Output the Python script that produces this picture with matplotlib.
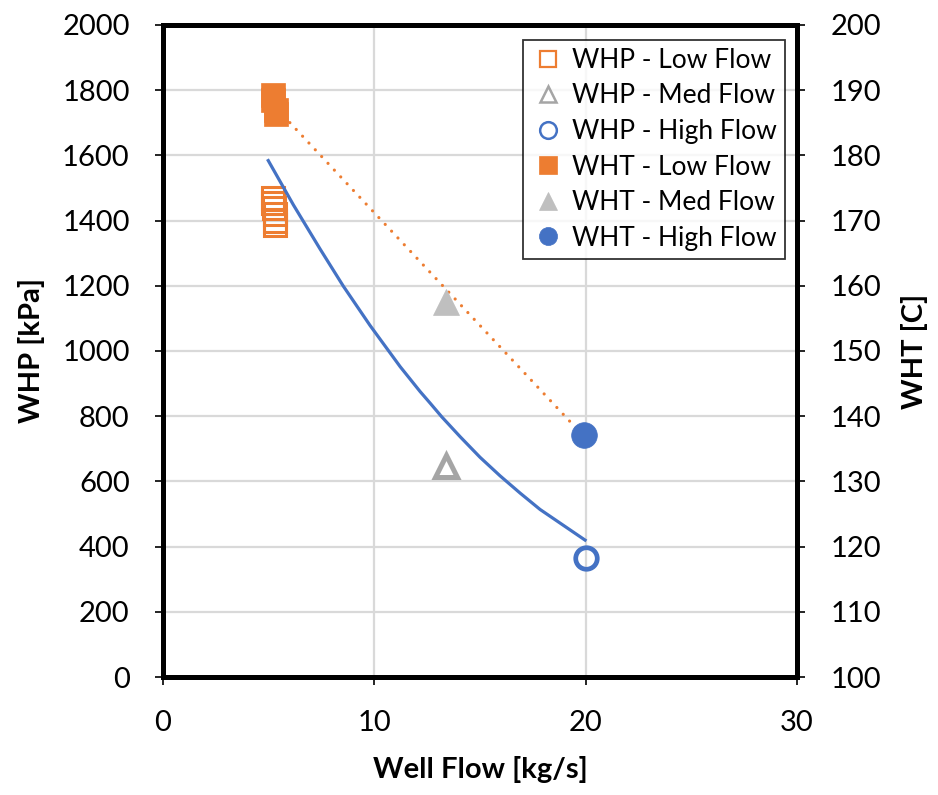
import matplotlib
matplotlib.use("Agg")
import matplotlib.pyplot as plt
from matplotlib.lines import Line2D

plt.rcParams['font.family'] = ['Lato', 'DejaVu Sans']

# ---- data ----
whp_low_x = [5.2, 5.2, 5.25, 5.3, 5.3, 5.3]
whp_low_y = [1470, 1455, 1440, 1420, 1400, 1385]
whp_med_x = [13.4]
whp_med_y = [648]
whp_high_x = [20.0]
whp_high_y = [365]

wht_low_x = [5.2, 5.2, 5.35, 5.35]
wht_low_y = [189.3, 188.5, 187.0, 186.3]
wht_med_x = [13.4]
wht_med_y = [157.5]
wht_high_x = [19.9]
wht_high_y = [137.1]

# WHP trend curve (blue, solid)
curve_x = [4.98, 6.17, 7.43, 8.53, 9.80, 11.22, 12.16, 12.64, 13.19, 14.06, 15.0, 15.95, 16.9, 17.84, 19.97]
curve_whp = [1584, 1448, 1313, 1199, 1078, 952, 876, 840, 798, 737, 674, 617, 564, 514, 420]
# WHT trend line (orange, dotted)
trend_x = [5.4, 19.86]
trend_wht = [187.1, 137.1]

x_ticks = [0, 10, 20, 30]
whp_ticks = list(range(0, 2001, 200))
wht_ticks = list(range(100, 201, 10))

ORANGE = '#ED7D31'
GRAY = '#A5A5A5'
LGRAY = '#BFBFBF'
BLUE = '#4472C4'

fig = plt.figure(figsize=(9.38, 7.95), dpi=100)
ax = fig.add_axes([0.1738, 0.1484, 0.6759, 0.8202])
ax2 = ax.twinx()

ax.set_xlim(0, 30)
ax.set_ylim(0, 2000)
ax2.set_ylim(100, 200)
ax.set_xticks(x_ticks)
ax.set_yticks(whp_ticks)
ax2.set_yticks(wht_ticks)

ax.grid(True, color='#D9D9D9', linewidth=1.6)
ax.set_axisbelow(True)

ax.plot(whp_low_x, whp_low_y, 's', ms=16, mfc='none', mec=ORANGE, mew=2.2, ls='none')
ax.plot(whp_med_x, whp_med_y, '^', ms=16.5, mfc='none', mec=GRAY, mew=3.6, ls='none')
ax.plot(whp_high_x, whp_high_y, 'o', ms=15.5, mfc='none', mec=BLUE, mew=3.4, ls='none')
ax.plot(curve_x, curve_whp, '-', color=BLUE, lw=2.3, solid_joinstyle='round')

ax2.plot(trend_x, trend_wht, color=ORANGE, lw=2.3, ls=(0, (0.01, 2.9)), dash_capstyle='round')
ax2.plot(wht_low_x, wht_low_y, 's', ms=17, mfc=ORANGE, mec=ORANGE, mew=0.5, ls='none')
ax2.plot(wht_med_x, wht_med_y, '^', ms=19, mfc=LGRAY, mec=LGRAY, mew=0.5, ls='none')
ax2.plot(wht_high_x, wht_high_y, 'o', ms=18.5, mfc=BLUE, mec=BLUE, mew=0.5, ls='none')

for a in (ax, ax2):
    for s in a.spines.values():
        s.set_linewidth(3.6)
        s.set_color('black')
    a.tick_params(axis='both', direction='out', length=6, width=1.2, labelsize=21, pad=18, colors='black')

ax.set_xlabel('Well Flow [kg/s]', fontsize=21, fontweight='bold', labelpad=14)
ax.set_ylabel('WHP [kPa]', fontsize=21, fontweight='bold', labelpad=12)
ax2.set_ylabel('WHT [C]', fontsize=21, fontweight='bold', labelpad=14)

handles = [
    Line2D([], [], marker='s', ms=11.5, mfc='none', mec=ORANGE, mew=1.6, ls='none', label='WHP - Low Flow'),
    Line2D([], [], marker='^', ms=12, mfc='none', mec=GRAY, mew=1.8, ls='none', label='WHP - Med Flow'),
    Line2D([], [], marker='o', ms=12, mfc='none', mec=BLUE, mew=1.8, ls='none', label='WHP - High Flow'),
    Line2D([], [], marker='s', ms=12.5, mfc=ORANGE, mec=ORANGE, mew=0.5, ls='none', label='WHT - Low Flow'),
    Line2D([], [], marker='^', ms=13, mfc=LGRAY, mec=LGRAY, mew=0.5, ls='none', label='WHT - Med Flow'),
    Line2D([], [], marker='o', ms=13, mfc=BLUE, mec=BLUE, mew=0.5, ls='none', label='WHT - High Flow'),
]
leg = ax2.legend(handles=handles, loc='upper right',
                 bbox_to_anchor=(0.981, 0.977), fontsize=19, frameon=True,
                 fancybox=False, handlelength=1.3,
                 handletextpad=0.25, borderpad=0.3, labelspacing=0.4,
                 borderaxespad=0)
leg.get_frame().set_edgecolor('black')
leg.get_frame().set_linewidth(1.3)

fig.savefig('out.png', dpi=100)
